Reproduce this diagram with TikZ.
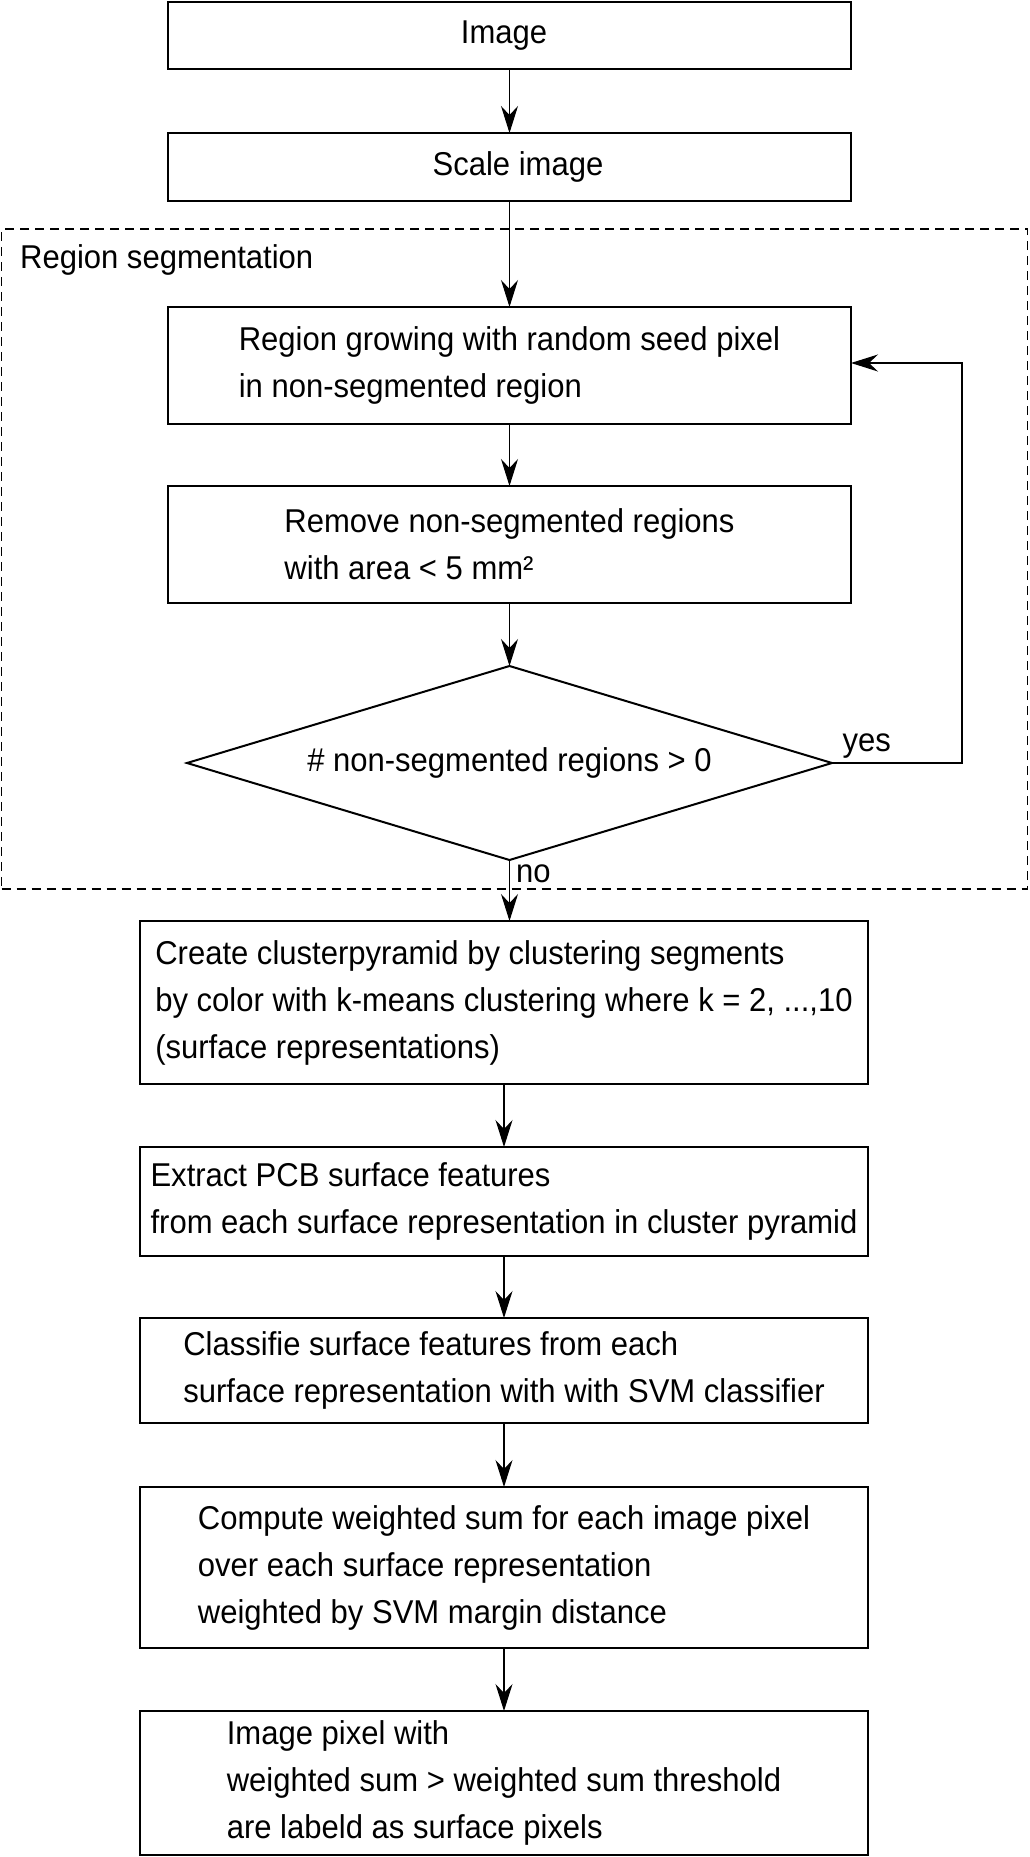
\documentclass[tikz,border=0pt]{standalone}
\usepackage{fontspec}
\setmainfont{Liberation Sans}[FakeStretch=0.94]
\usetikzlibrary{positioning,shapes.geometric,arrows.meta}

\begin{document}
\begin{tikzpicture}[x=1pt,y=-1pt,font=\fontsize{33}{47}\selectfont,
	procbox/.style={draw, rectangle, align=left, inner sep=0pt, outer sep=0pt, line width=1.4},
	flow/.style={line width=1.1, -{Stealth[length=27pt,width=17pt,inset=9pt]}}]
	\useasboundingbox (0,0) rectangle (1030,1857);
	% region segmentation frame
	\node[draw, dash pattern=on 9pt off 6pt, line width=1.8, minimum width=1026pt, minimum height=660pt, inner sep=0pt] (seg) at (514.5,559) {};
	\node[anchor=base west] (segtag) at ([xshift=16pt,yshift=-40pt]seg.north west) {Region segmentation};
	\begin{scope}[node distance=63pt]
	\node[procbox, minimum width=683pt, minimum height=67pt] (img) at (509.5,35.5) {Image\hspace{11pt}};
	\node[procbox, minimum width=683pt, minimum height=68pt, below=64pt of img] (scale) {\hspace{17pt}Scale image};
	\node[procbox, minimum width=683pt, minimum height=117pt, below=106pt of scale] (grow) {Region growing with random seed pixel\\in non-segmented region};
	\node[procbox, minimum width=683pt, minimum height=117pt, below=62pt of grow] (remove) {Remove non-segmented regions\\with area < 5 mm²};
	\node[draw, diamond, aspect=3.3, minimum width=645pt, minimum height=194pt, inner sep=0pt, outer sep=0pt, line width=2, below=of remove] (test) {\# non-segmented regions > 0};
	\node[procbox, minimum width=728pt, minimum height=163pt, below=61pt of test, xshift=-5.5pt] (create) {Create clusterpyramid by clustering segments\\by color with k-means clustering where k = 2, ...,10\\(surface representations)};
	\node[procbox, minimum width=728pt, minimum height=109pt, below=of create] (extract) {Extract PCB surface features\\from each surface representation in cluster pyramid};
	\node[procbox, minimum width=728pt, minimum height=105pt, line width=2.5, below=62pt of extract] (classify) {Classifie surface features from each\\surface representation with with SVM classifier};
	\node[procbox, minimum width=728pt, minimum height=161pt, below=64pt of classify] (compute) {Compute weighted sum for each image pixel\\over each surface representation\\weighted by SVM margin distance};
	\node[procbox, minimum width=728pt, minimum height=144pt, below=of compute] (pixel) {Image pixel with\\weighted sum > weighted sum threshold\\are labeld as surface pixels};
	\end{scope}
	\node[anchor=base west] (yes) at ([xshift=7pt,yshift=12pt]test.east) {yes};
	\node[anchor=base west] (no) at ([xshift=3pt,yshift=-22pt]test.south) {no};
	\coordinate (back) at (962,363);
	\begin{scope}
	\draw[flow] (img) -- (scale);
	\draw[flow] (scale) -- (grow);
	\draw[flow] (grow) -- (remove);
	\draw[flow] (remove) -- (test);
	\draw[flow] (test.south) -- (test.south |- create.north);
	\draw[flow] (create) -- (extract);
	\draw[flow] (extract) -- (classify);
	\draw[flow] (classify) -- (compute);
	\draw[flow] (compute) -- (pixel);
	\draw[flow] (test.east) -| (back) -- (back -| grow.east);
	\end{scope}
\end{tikzpicture}
\end{document}
